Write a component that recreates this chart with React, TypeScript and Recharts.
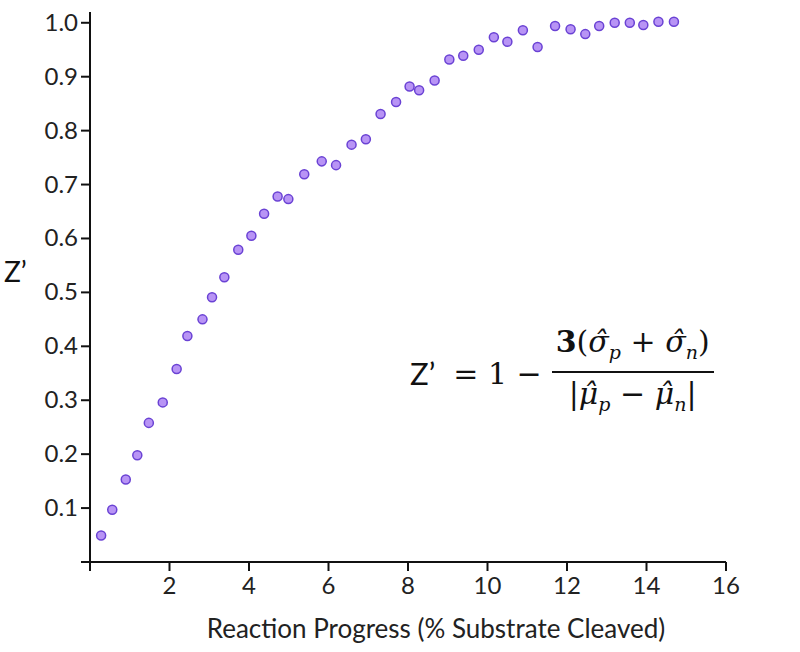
import React from "react";
import { ScatterChart, Scatter, XAxis, YAxis, ZAxis, Label } from "recharts";

// reaction progress (% substrate cleaved)
const progress = [
  0.28, 0.56, 0.9, 1.19, 1.48, 1.83, 2.18, 2.45, 2.83, 3.07, 3.38, 3.73,
  4.06, 4.38, 4.72, 4.99, 5.39, 5.83, 6.19, 6.58, 6.94, 7.31, 7.7, 8.04,
  8.28, 8.67, 9.04, 9.39, 9.78, 10.16, 10.5, 10.89, 11.26, 11.7, 12.09,
  12.46, 12.81, 13.2, 13.58, 13.92, 14.3, 14.69,
];

// Z' factor
const zPrime = [
  0.049, 0.097, 0.153, 0.198, 0.258, 0.296, 0.358, 0.419, 0.45, 0.491,
  0.528, 0.579, 0.605, 0.646, 0.678, 0.673, 0.719, 0.743, 0.736, 0.774,
  0.784, 0.831, 0.853, 0.882, 0.875, 0.893, 0.932, 0.939, 0.95, 0.973,
  0.965, 0.986, 0.955, 0.994, 0.988, 0.979, 0.994, 1.0, 1.0, 0.996,
  1.002, 1.002,
];

const xTicks = [0, 2, 4, 6, 8, 10, 12, 14, 16];
const yTicks = [0, 0.1, 0.2, 0.3, 0.4, 0.5, 0.6, 0.7, 0.8, 0.9, 1.0];

const data = progress.map((x, i) => ({ x, z: zPrime[i] }));

const FONT = "Lato, 'Open Sans', sans-serif";
const MATH = "'DejaVu Serif', 'Liberation Serif', serif";

// tick labels drawn as plain svg text so the font size sticks
function XTick({ x, y, payload }: any) {
  if (payload.value === 0) return null;
  return (
    <text x={x} y={y + 18} textAnchor="middle" fontSize={24} fontFamily={FONT} fill="#222">
      {payload.value}
    </text>
  );
}

function YTick({ x, y, payload }: any) {
  if (payload.value === 0) return null;
  return (
    <text x={x} y={y + 8} textAnchor="end" fontSize={24} fontFamily={FONT} fill="#222">
      {payload.value.toFixed(1)}
    </text>
  );
}

function Formula() {
  const sub = { fontSize: 19 };
  return (
    <div
      style={{
        position: "absolute",
        left: 410,
        top: 323,
        display: "flex",
        alignItems: "center",
        color: "#111",
        whiteSpace: "nowrap",
      }}
    >
      <span style={{ fontFamily: FONT, fontSize: 31, marginRight: 18 }}>Z’</span>
      <span style={{ fontFamily: MATH, fontSize: 30 }}>= 1 −</span>
      <div
        style={{
          display: "inline-flex",
          flexDirection: "column",
          alignItems: "center",
          marginLeft: 10,
          fontFamily: MATH,
          fontSize: 30,
          lineHeight: "38px",
        }}
      >
        <div style={{ padding: "0 4px 0" }}>
          <span style={{ fontWeight: 600 }}>3</span>(<i>σ̂</i>
          <sub style={sub}><i>p</i></sub> + <i>σ̂</i>
          <sub style={sub}><i>n</i></sub>)
        </div>
        <div style={{ borderTop: "2px solid #111", alignSelf: "stretch" }} />
        <div style={{ padding: "2px 4px 0" }}>
          |<i>μ̂</i>
          <sub style={sub}><i>p</i></sub> − <i>μ̂</i>
          <sub style={sub}><i>n</i></sub>|
        </div>
      </div>
    </div>
  );
}

export default function App() {
  return (
    <div style={{ position: "absolute", left: 0, top: 0, width: 800, height: 652, background: "#fff" }}>
      <ScatterChart width={800} height={652} margin={{ top: 12, right: 74, bottom: 0, left: 0 }}>
        <XAxis
          type="number"
          dataKey="x"
          domain={[0, 16]}
          ticks={xTicks}
          height={90}
          axisLine={{ stroke: "#111", strokeWidth: 2 }}
          tickLine={{ stroke: "#111", strokeWidth: 2 }}
          tickSize={9}
          tickMargin={5}
          tick={<XTick />}
        >
          <Label
            content={({ viewBox }: any) => (
              <text
                x={viewBox.x + viewBox.width / 2 + 28}
                y={viewBox.y + 76}
                textAnchor="middle"
                fontSize={26}
                fontFamily={FONT}
                fill="#222"
              >
                Reaction Progress (% Substrate Cleaved)
              </text>
            )}
          />
        </XAxis>
        <YAxis
          type="number"
          dataKey="z"
          domain={[0, 1.02]}
          ticks={yTicks}
          width={90}
          axisLine={{ stroke: "#111", strokeWidth: 2 }}
          tickLine={{ stroke: "#111", strokeWidth: 2 }}
          tickSize={9}
          tickMargin={3}
          tick={<YTick />}
        >
          <Label
            content={({ viewBox }: any) => (
              <text
                x={4}
                y={viewBox.y + viewBox.height / 2 - 5}
                fontSize={28}
                fontFamily={FONT}
                fill="#111"
              >
                Z’
              </text>
            )}
          />
        </YAxis>
        <ZAxis range={[95, 95]} />
        <Scatter
          data={data}
          fill="#b894f5"
          stroke="#6a42d4"
          strokeWidth={1.5}
          shape="circle"
          isAnimationActive={false}
        />
      </ScatterChart>
      <Formula />
    </div>
  );
}
